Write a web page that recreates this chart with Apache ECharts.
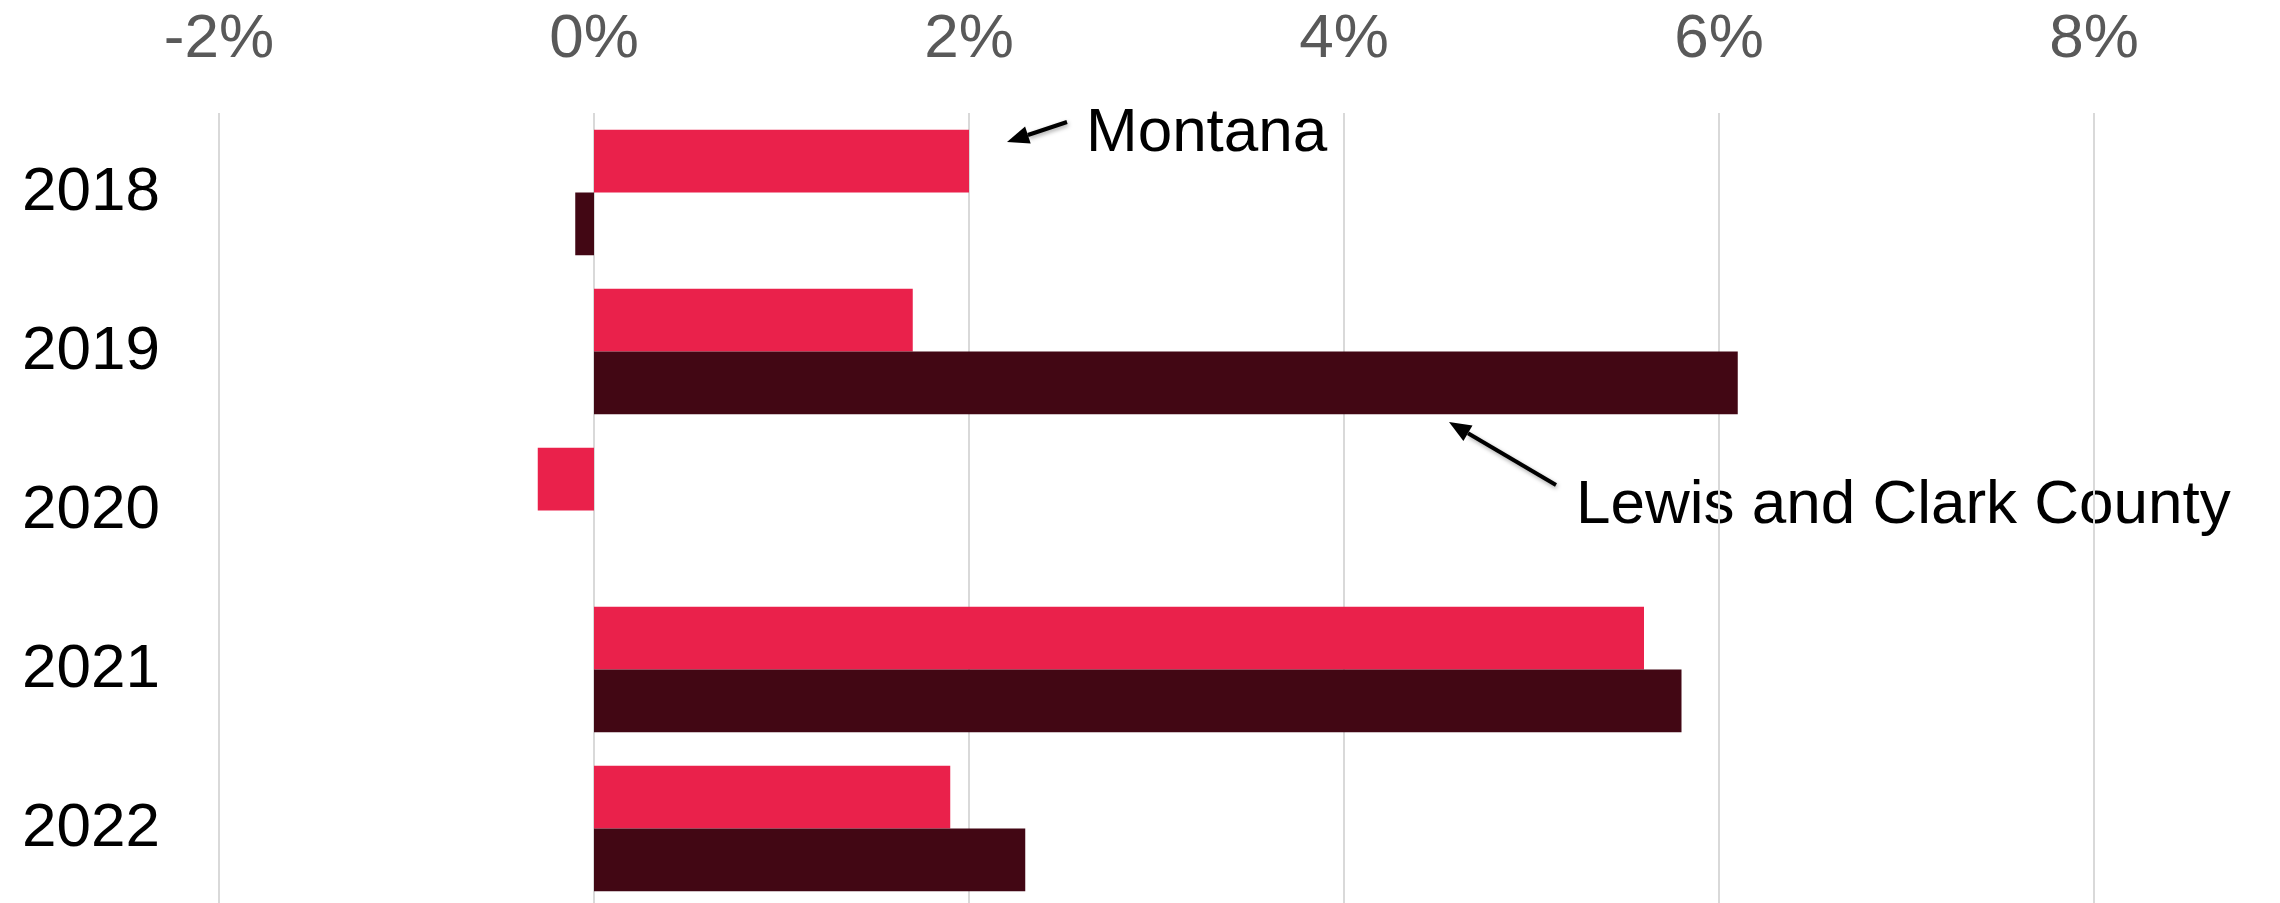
<!DOCTYPE html>
<html>
<head>
<meta charset="utf-8">
<script src="https://cdn.jsdelivr.net/npm/echarts@6/dist/echarts.min.js"></script>
<style>
    html, body { margin: 0; padding: 0; background: #fff; }
    #chart { width: 2280px; height: 903px; }
</style>
</head>
<body>
<div id="chart"></div>
<script>
// years on the category axis
var years = ['2018', '2019', '2020', '2021', '2022'];
// yearly change, percent
var montana = [2.0, 1.7, -0.3, 5.6, 1.9];
var lewisClark = [-0.1, 6.1, 0, 5.8, 2.3];
// value axis ticks
var tickMin = -2;
var tickMax = 8;
var tickStep = 2;

var myChart = echarts.init(document.getElementById('chart'));

var font = '"Liberation Sans", Arial, sans-serif';
var arrowStyle = { stroke: '#000', lineWidth: 4, shadowBlur: 4, shadowColor: 'rgba(0,0,0,0.35)', shadowOffsetX: 1, shadowOffsetY: 2 };

var option = {
    backgroundColor: '#ffffff',
    animation: false,
    grid: {
        left: 219,
        right: 186,
        top: 113,
        bottom: -5,
        outerBoundsMode: 'none'
    },
    xAxis: {
        type: 'value',
        position: 'top',
        min: tickMin,
        max: tickMax,
        interval: tickStep,
        axisLine: { show: false },
        axisTick: { show: false },
        splitLine: { lineStyle: { color: '#d9d9d9', width: 2 } },
        axisLabel: {
            color: '#595959',
            fontFamily: font,
            fontSize: 62,
            margin: 42,
            formatter: function (v) { return v + '%'; }
        }
    },
    yAxis: {
        type: 'category',
        data: years,
        inverse: true,
        axisLine: { show: false },
        axisTick: { show: false },
        axisLabel: {
            color: '#000000',
            fontFamily: font,
            fontSize: 62,
            align: 'left',
            margin: 197
        }
    },
    series: [
        {
            name: 'Montana',
            type: 'bar',
            data: montana,
            barGap: 0,
            barCategoryGap: '21%',
            itemStyle: { color: '#ea214b' }
        },
        {
            name: 'Lewis and Clark County',
            type: 'bar',
            data: lewisClark,
            barGap: 0,
            barCategoryGap: '21%',
            itemStyle: { color: '#420714' }
        }
    ],
    graphic: [
        // Montana callout
        {
            type: 'line',
            shape: { x1: 1067, y1: 122, x2: 1027.9, y2: 135 },
            style: arrowStyle
        },
        {
            type: 'polygon',
            shape: { points: [[1007, 142], [1030.7, 143.6], [1025.1, 126.5]] },
            style: { fill: '#000' }
        },
        {
            type: 'text',
            left: 1086,
            top: 103,
            style: { text: 'Montana', fill: '#000', font: '62px ' + font }
        },
        // Lewis and Clark callout
        {
            type: 'line',
            shape: { x1: 1556, y1: 485, x2: 1468, y2: 433.2 },
            style: arrowStyle
        },
        {
            type: 'polygon',
            shape: { points: [[1449, 422], [1472.5, 425.4], [1463.4, 440.9]] },
            style: { fill: '#000' }
        },
        {
            type: 'text',
            left: 1576,
            top: 475,
            style: { text: 'Lewis and Clark County', fill: '#000', font: '62px ' + font }
        }
    ]
};

myChart.setOption(option);
</script>
</body>
</html>
